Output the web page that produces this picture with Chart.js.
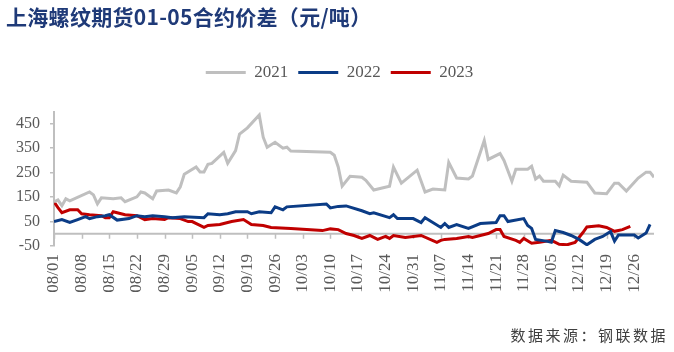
<!DOCTYPE html>
<html>
<head>
<meta charset="utf-8">
<script src="https://cdn.jsdelivr.net/npm/chart.js@4.4.0/dist/chart.umd.min.js"></script>
<style>
  html, body { margin: 0; padding: 0; background: #fff; }
  #wrap { position: relative; width: 674px; height: 352px; }
  #title {
    position: absolute; left: 6px; top: 1px;
    font: bold 21px "Noto Sans CJK SC", sans-serif; color: #1F3A78; letter-spacing: 0.3px;
  }
  #source {
    position: absolute; right: 6px; top: 324px;
    font: 15px "Noto Sans CJK SC", sans-serif; color: #404040; letter-spacing: 2.5px;
  }
</style>
</head>
<body>
<div id="wrap">
  <canvas id="spreadChart" width="674" height="352"></canvas>
  <div id="title">上海螺纹期货01-05合约价差（元/吨）</div>
  <div id="source">数据来源：钢联数据</div>
</div>
<script>
// 上海螺纹期货 01-05 合约价差 (元/吨), 8月-12月
const xTickLabels = ['08/01', '08/08', '08/15', '08/22', '08/29', '09/05', '09/12', '09/19', '09/26',
    '10/03', '10/10', '10/17', '10/24', '10/31', '11/07', '11/14', '11/21', '11/28', '12/05',
    '12/12', '12/19', '12/26'];
const yTickValues = [-50, 50, 150, 250, 350, 450];

const dates2021 = ['08/01', '08/02', '08/03', '08/04', '08/05', '08/10', '08/11', '08/12', '08/13', '08/16',
    '08/18', '08/19', '08/22', '08/23', '08/24', '08/26', '08/27', '08/30', '09/01', '09/02', '09/03',
    '09/06', '09/07', '09/08', '09/09', '09/10', '09/13', '09/14', '09/16', '09/17', '09/19', '09/22',
    '09/23', '09/24', '09/26', '09/28', '09/29', '09/30', '10/10', '10/11', '10/12', '10/13', '10/15',
    '10/18', '10/19', '10/21', '10/25', '10/26', '10/28', '11/01', '11/03', '11/05', '11/08', '11/09',
    '11/11', '11/14', '11/15', '11/18', '11/19', '11/22', '11/23', '11/25', '11/26', '11/29', '11/30',
    '12/01', '12/02', '12/03', '12/06', '12/07', '12/08', '12/10', '12/14', '12/16', '12/19', '12/21',
    '12/22', '12/24', '12/27', '12/29', '12/30', '12/31'];
const spread2021 = [130, 138, 115, 143, 135, 171, 159, 122, 147, 143,
    147, 131, 151, 171, 167, 143, 175, 179, 167, 192, 243,
    273, 253, 253, 284, 288, 333, 288, 340, 408, 433, 486,
    395, 354, 374, 350, 354, 338, 333, 321, 273, 195, 235,
    231, 219, 179, 194, 273, 207, 260, 171, 183, 179, 292,
    228, 224, 236, 381, 304, 328, 300, 215, 264, 264, 276,
    224, 236, 215, 215, 196, 240, 215, 211, 167, 164, 207,
    207, 175, 228, 252, 252, 231];

const dates2022 = ['08/01', '08/03', '08/05', '08/07', '08/09', '08/10', '08/12', '08/14', '08/15', '08/17',
    '08/20', '08/22', '08/24', '08/26', '08/29', '08/31', '09/03', '09/08', '09/09', '09/12', '09/14',
    '09/16', '09/19', '09/20', '09/22', '09/25', '09/26', '09/28', '09/29', '10/09', '10/10', '10/12',
    '10/14', '10/18', '10/20', '10/21', '10/25', '10/26', '10/27', '10/31', '11/02', '11/03', '11/07',
    '11/08', '11/09', '11/11', '11/14', '11/17', '11/21', '11/22', '11/23', '11/24', '11/28', '11/29',
    '11/30', '12/01', '12/04', '12/05', '12/06', '12/08', '12/10', '12/12', '12/14', '12/16', '12/18',
    '12/20', '12/21', '12/22', '12/26', '12/27', '12/29', '12/30'];
const spread2022 = [50, 58, 46, 58, 70, 62, 70, 74, 78, 56,
    62, 74, 70, 74, 70, 66, 70, 66, 82, 78, 82,
    90, 90, 82, 90, 86, 110, 98, 110, 122, 106, 112,
    114, 94, 82, 86, 66, 78, 62, 62, 46, 66, 26,
    42, 26, 38, 22, 42, 46, 74, 74, 50, 62, 34,
    22, -23, -31, -35, 13, 5, -7, -23, -45, -23, -11,
    9, -30, -5, -5, -17, 3, 38];

const dates2023 = ['08/01', '08/02', '08/03', '08/05', '08/07', '08/08', '08/10', '08/13', '08/14', '08/15',
    '08/16', '08/17', '08/19', '08/22', '08/24', '08/26', '08/29', '08/30', '09/02', '09/04', '09/05',
    '09/08', '09/09', '09/12', '09/13', '09/15', '09/18', '09/20', '09/23', '09/25', '09/30', '10/08',
    '10/10', '10/12', '10/14', '10/16', '10/18', '10/20', '10/22', '10/24', '10/25', '10/26', '10/29',
    '11/02', '11/06', '11/07', '11/08', '11/11', '11/14', '11/15', '11/17', '11/19', '11/21', '11/22',
    '11/23', '11/26', '11/27', '11/28', '11/30', '12/02', '12/05', '12/07', '12/09', '12/11', '12/13',
    '12/14', '12/17', '12/19', '12/21', '12/23', '12/25'];
const spread2023 = [130, 107, 86, 98, 98, 82, 78, 74, 66, 66,
    90, 86, 78, 74, 58, 62, 58, 66, 62, 50, 50,
    26, 34, 38, 42, 50, 58, 38, 34, 26, 22, 13,
    20, 17, 1, -7, -19, -7, -23, -11, -19, -7, -15,
    -7, -35, -27, -23, -19, -11, -15, -7, 1, 17, 17,
    -11, -27, -35, -19, -39, -35, -27, -43, -45, -35, 5,
    28, 33, 26, 10, 17, 30];

const axisColor = '#BFBFBF';
const textColor = '#595959';
const serif = '"Times New Roman", "Liberation Serif", "DejaVu Serif", serif';

// 'MM/DD' -> days since 08/01
function dayOf(label) {
    const [m, d] = label.split('/').map(Number);
    return Math.round((Date.UTC(2021, m - 1, d) - Date.UTC(2021, 7, 1)) / 864e5);
}

function toPoints(dates, values) {
    return dates.map((d, i) => ({ x: dayOf(d), y: values[i] }));
}

// horizontal line at 0 with the date tick marks hanging under it
const zeroLinePlugin = {
    id: 'zeroLine',
    beforeDatasetsDraw(chart) {
        const { ctx, chartArea, scales: { x, y } } = chart;
        const y0 = y.getPixelForValue(0);
        ctx.save();
        ctx.strokeStyle = axisColor;
        ctx.lineWidth = 2;
        ctx.beginPath();
        ctx.moveTo(chartArea.left, y0);
        ctx.lineTo(chartArea.right, y0);
        ctx.stroke();
        ctx.lineWidth = 1.5;
        ctx.beginPath();
        x.ticks.forEach(t => {
            const px = Math.round(x.getPixelForValue(t.value)) + 0.5;
            ctx.moveTo(px, y0);
            ctx.lineTo(px, y0 + 5);
        });
        ctx.stroke();
        ctx.restore();
    }
};

Chart.defaults.font.family = serif;
Chart.defaults.color = textColor;

const series = [
    { label: '2021', dates: dates2021, values: spread2021, color: '#BFBFBF' },
    { label: '2022', dates: dates2022, values: spread2022, color: '#0B3C86' },
    { label: '2023', dates: dates2023, values: spread2023, color: '#C00000' }
];

new Chart(document.getElementById('spreadChart'), {
    type: 'line',
    data: {
        datasets: series.map(s => ({
            label: s.label,
            data: toPoints(s.dates, s.values),
            borderColor: s.color,
            backgroundColor: s.color,
            borderWidth: 3,
            pointRadius: 0,
            tension: 0
        }))
    },
    options: {
        responsive: false,
        animation: false,
        devicePixelRatio: 1,
        layout: { padding: { left: 5, right: 0, top: 54, bottom: 0 } },
        plugins: {
            title: { display: false },
            legend: {
                display: true,
                position: 'top',
                labels: {
                    boxWidth: 40,
                    boxHeight: 3,
                    padding: 10,
                    color: textColor,
                    font: { family: serif, size: 17 },
                    generateLabels(chart) {
                        return Chart.defaults.plugins.legend.labels.generateLabels(chart).map(item => ({
                            ...item, lineWidth: 0, fillStyle: item.strokeStyle
                        }));
                    }
                }
            },
            subtitle: {
                // spacer between legend and plot
                display: true,
                text: '',
                weight: 500,
                font: { size: 10 },
                padding: { top: 0, bottom: 8.5 }
            },
            tooltip: { enabled: false }
        },
        scales: {
            x: {
                type: 'linear',
                min: 0,
                max: dayOf('12/31'),
                border: { display: false },
                grid: { display: false, drawTicks: false },
                afterBuildTicks: scale => {
                    scale.ticks = xTickLabels.map(l => ({ value: dayOf(l) }));
                },
                afterFit: scale => { scale.height = 106; },
                ticks: {
                    autoSkip: false,
                    minRotation: 90,
                    maxRotation: 90,
                    padding: 8,
                    color: textColor,
                    font: { family: serif, size: 17 },
                    callback: (value, index) => xTickLabels[index]
                }
            },
            y: {
                min: -50,
                max: 500,
                border: { display: true, color: axisColor, width: 2 },
                grid: { drawOnChartArea: false, drawTicks: true, tickLength: 4, color: axisColor, lineWidth: 1.5 },
                afterBuildTicks: scale => {
                    scale.ticks = yTickValues.map(v => ({ value: v }));
                },
                afterFit: scale => { scale.width = 49; },
                ticks: {
                    padding: 10,
                    color: textColor,
                    font: { family: serif, size: 16 },
                    callback: value => String(value)
                }
            },
            // empty strip on the right, keeps the plot ending at x=654
            // while the full-width legend stays centred like the original
            yRight: {
                position: 'right',
                display: true,
                border: { display: false },
                grid: { display: false },
                ticks: { display: false },
                afterFit: scale => { scale.width = 20; }
            }
        }
    },
    plugins: [zeroLinePlugin]
});
</script>
</body>
</html>
